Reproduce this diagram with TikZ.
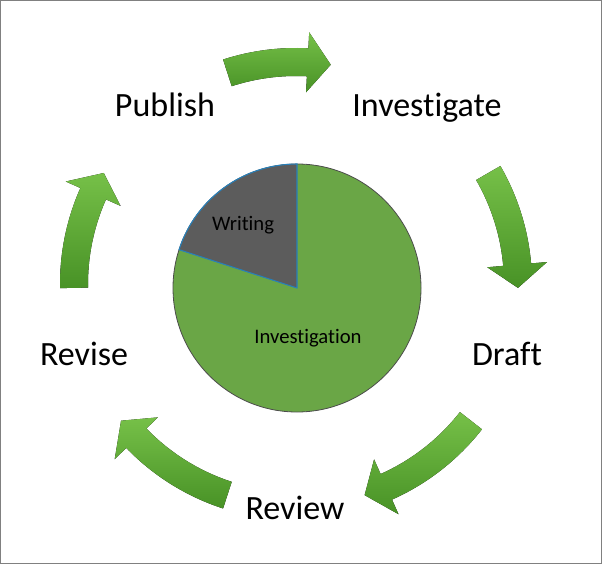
\documentclass[tikz,border=0pt]{standalone}
\usepackage{fontspec}
\setmainfont{Carlito}[Ligatures=NoCommon]
\usepackage{tikz}
\usetikzlibrary{calc}

\definecolor{arrowlight}{RGB}{118,192,72}
\definecolor{arrowdark}{RGB}{72,146,38}
\definecolor{piegreen}{RGB}{106,166,70}
\definecolor{writinggray}{RGB}{92,92,92}
\definecolor{sliceblue}{RGB}{40,128,186}
\definecolor{framegray}{RGB}{128,128,128}

\tikzset{
	cyclearrow/.style={top color=arrowlight, bottom color=arrowdark, draw=none},
	steplabel/.style={anchor=base, font=\fontsize{25.5}{30}\selectfont},
	pielabel/.style={font=\fontsize{15.5}{18}\selectfont}
}

\begin{document}
\begin{tikzpicture}[x=0.75pt,y=0.75pt]

	\useasboundingbox (0,0) rectangle (602,564);
	\draw[framegray, line width=1pt] (0.7,0.7) rectangle (601.3,563.3);

	\coordinate (cycle) at (296,280);
	\coordinate (pie) at (297,276);

	% arrows round the cycle
	\begin{scope}[shift={(cycle)}]
		\fill[cyclearrow] (108:236) arc[start angle=108, end angle=87, radius=236] -- (87:252) -- (81:222) -- (87:192) -- (87:208) arc[start angle=87, end angle=108, radius=208] -- cycle; %publish to investigate
		\fill[cyclearrow] (30:236) arc[start angle=30, end angle=5, radius=236] -- (5:252) -- (-1:222) -- (5:192) -- (5:208) arc[start angle=5, end angle=30, radius=208] -- cycle; %investigate to draft
		\fill[cyclearrow] (-38:236) arc[start angle=-38, end angle=-66, radius=236] -- (-66:252) -- (-72:222) -- (-66:192) -- (-66:208) arc[start angle=-66, end angle=-38, radius=208] -- cycle; %draft to review
		\fill[cyclearrow] (-108:236) arc[start angle=-108, end angle=-136, radius=236] -- (-136:252) -- (-142:222) -- (-136:192) -- (-136:208) arc[start angle=-136, end angle=-108, radius=208] -- cycle; %review to revise
		\fill[cyclearrow] (181:236) arc[start angle=181, end angle=156, radius=236] -- (156:252) -- (150:222) -- (156:192) -- (156:208) arc[start angle=156, end angle=181, radius=208] -- cycle; %revise to publish
	\end{scope}

	\node[steplabel] (publish) at (165,447) {Publish};
	\node[steplabel] (investigate) at (427,447) {Investigate};
	\node[steplabel] (draft) at (507,199) {Draft};
	\node[steplabel] (review) at (295,45) {Review};
	\node[steplabel] (revise) at (84,199) {Revise};

	% pie chart
	\fill[piegreen] (pie) circle[radius=124];
	\draw[black!70, line width=0.6pt] (pie) circle[radius=124];
	\fill[writinggray] (pie) -- ($(pie)+(90:124)$) arc[start angle=90, end angle=162, radius=124] -- cycle;
	\draw[sliceblue, line width=0.8pt] (pie) -- ($(pie)+(90:124)$) arc[start angle=90, end angle=162, radius=124] -- cycle;

	\node[pielabel] (writing) at (243,339) {Writing};
	\node[pielabel] (investigation) at (308,226) {Investigation};

\end{tikzpicture}
\end{document}
